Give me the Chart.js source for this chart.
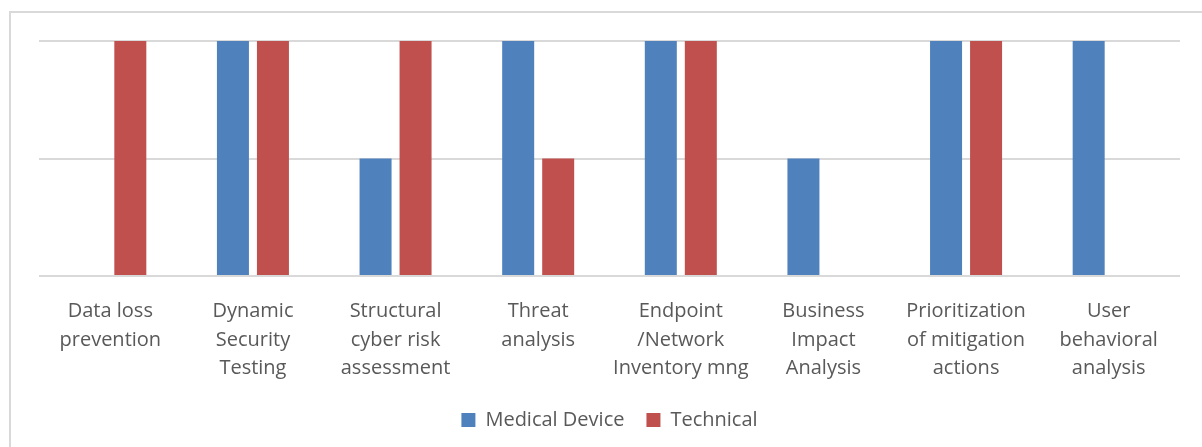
<!DOCTYPE html>
<html>
<head>
<meta charset="utf-8">
<script src="https://cdn.jsdelivr.net/npm/chart.js@4/dist/chart.umd.min.js"></script>
<style>
  html, body { margin: 0; padding: 0; background: #ffffff; }
  #wrap { position: relative; width: 1202px; height: 447px; overflow: hidden; }
  #frame { position: absolute; left: 9px; top: 11px; width: 1300px; height: 500px;
           border-top: 2px solid #d9d9d9; border-left: 2px solid #d9d9d9; box-sizing: border-box; pointer-events: none; }
  canvas { position: absolute; left: 0; top: 0; }
</style>
</head>
<body>
<div id="wrap">
  <canvas id="chart" width="1202" height="447"></canvas>
  <div id="frame"></div>
</div>
<script>
// Practice areas (one multi-line label per group)
const categories = [
  ["Data loss", "prevention"],
  ["Dynamic", "Security", "Testing"],
  ["Structural", "cyber risk", "assessment"],
  ["Threat", "analysis"],
  ["Endpoint", "/Network", "Inventory mng"],
  ["Business", "Impact", "Analysis"],
  ["Prioritization", "of mitigation", "actions"],
  ["User", "behavioral", "analysis"]
];

const medicalDevice = [0, 2, 1, 2, 2, 1, 2, 2];
const technical     = [2, 2, 2, 1, 2, 0, 2, 0];

const seriesNames = ["Medical Device", "Technical"];
const yTicks = [0, 1, 2];

const textColor = '#595959';
const fontFamily = '"Open Sans", "Noto Sans", sans-serif';

new Chart(document.getElementById('chart'), {
  type: 'bar',
  data: {
    labels: categories,
    datasets: [
      { label: seriesNames[0], data: medicalDevice, backgroundColor: '#4f81bd',
        barPercentage: 0.8, categoryPercentage: 0.561 },
      { label: seriesNames[1], data: technical, backgroundColor: '#c0504d',
        barPercentage: 0.8, categoryPercentage: 0.561 }
    ]
  },
  options: {
    responsive: false,
    animation: false,
    layout: { padding: { left: 39, right: 22, top: 41, bottom: 7 } },
    plugins: {
      tooltip: { enabled: false },
      legend: {
        position: 'bottom',
        labels: {
          color: textColor,
          font: { family: fontFamily, size: 20 },
          boxWidth: 14,
          boxHeight: 14,
          padding: 22
        }
      }
    },
    scales: {
      x: {
        grid: { display: false },
        border: { display: false },
        ticks: {
          color: textColor,
          font: { family: fontFamily, size: 20, lineHeight: 1.43 },
          maxRotation: 0,
          minRotation: 0,
          autoSkip: false,
          padding: 13
        },
        afterFit: (scale) => { scale.height = 112; }
      },
      y: {
        min: yTicks[0],
        max: yTicks[yTicks.length - 1],
        afterBuildTicks: (scale) => { scale.ticks = yTicks.map(v => ({ value: v })); },
        ticks: { display: false },
        border: { display: false },
        grid: { color: '#d9d9d9', lineWidth: 2, drawTicks: false },
        afterFit: (scale) => { scale.width = 0; }
      }
    }
  }
});
</script>
</body>
</html>
